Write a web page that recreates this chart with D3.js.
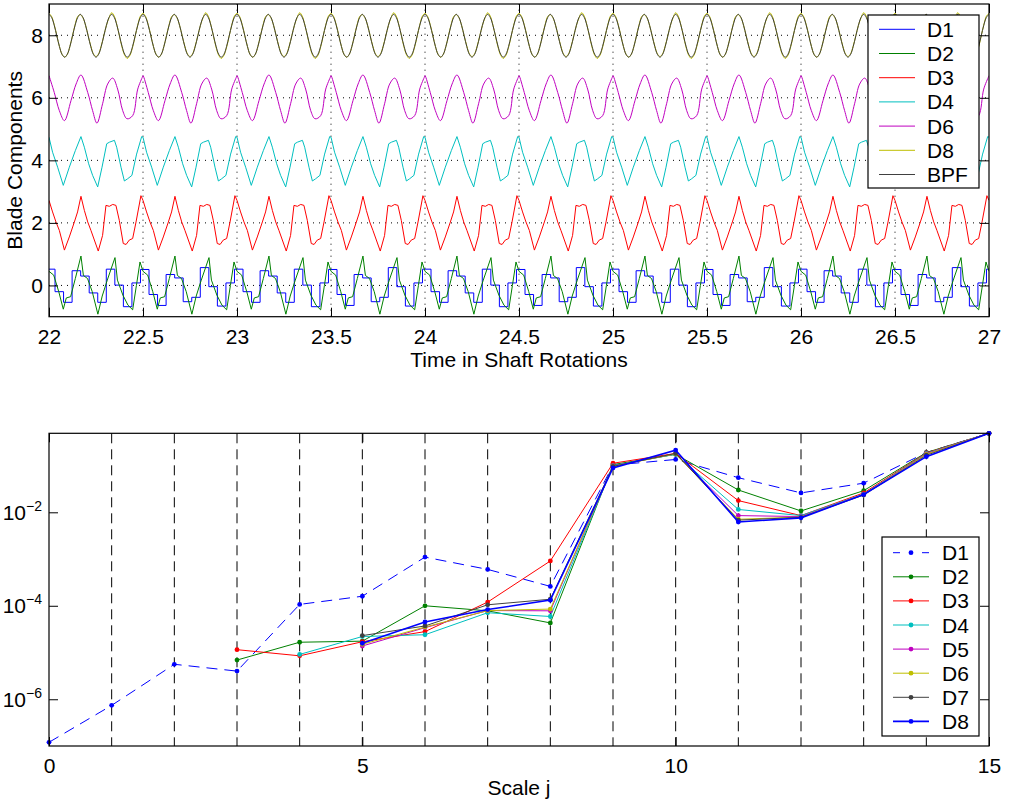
<!DOCTYPE html>
<html>
<head>
<meta charset="utf-8">
<script src="https://cdn.jsdelivr.net/npm/d3@7"></script>
<style>
  body { margin: 0; background: #fff; }
  svg text { font-family: "Liberation Sans", Arial, Helvetica, sans-serif; font-size: 21px; fill: #000; }
</style>
</head>
<body>
<svg id="chart" width="1012" height="805"></svg>
<script>
// ---- top panel: blade components vs time ----
var timeRange = [22, 27];
var timeTicks = [22, 22.5, 23, 23.5, 24, 24.5, 25, 25.5, 26, 26.5, 27];
var compRange = [-1, 9];
var compTicks = [0, 2, 4, 6, 8];

// D1 staircase: one shaft rotation = 22 levels
var d1First = 0.52, d1Start = 22.032, d1Step = 1 / 22;
var d1Levels = [-0.20, -0.54, 0.47, 0.30, -0.24, -0.54, 0.52, 0.01, -0.68, 0.08, 0.51,
                -0.29, -0.64, 0.35, 0.24, -0.52, -0.38, 0.57, -0.04, -0.66, 0.08, 0.52];

// one half rotation, [phase, value]
var d2Shape = [[0.000, 0.45], [0.025, 0.33], [0.052, -0.20], [0.076, -0.76], [0.092, -0.40], [0.115, -0.36],
               [0.140, 0.22], [0.170, 0.94], [0.183, 0.32], [0.205, 0.22], [0.230, -0.20], [0.260, -0.92],
               [0.283, -0.34], [0.310, 0.17], [0.351, 0.89], [0.364, 0.17], [0.393, -0.31], [0.420, -0.63],
               [0.445, -0.78], [0.465, 0.00], [0.484, 0.75]];
var d3Shape = [[0.000, 2.72], [0.019, 2.35], [0.037, 2.03], [0.055, 1.76], [0.082, 1.13], [0.108, 1.55],
               [0.135, 2.03], [0.152, 2.35], [0.170, 2.85], [0.188, 2.40], [0.206, 2.03], [0.223, 1.76],
               [0.262, 1.10], [0.285, 1.60], [0.303, 2.56], [0.321, 2.53], [0.339, 2.59], [0.356, 2.56],
               [0.374, 2.08], [0.395, 1.34], [0.410, 1.31], [0.427, 1.45], [0.445, 1.50], [0.463, 2.03],
               [0.489, 2.87]];
var d4Shape = [[0.000, 4.74], [0.019, 4.26], [0.046, 3.78], [0.076, 3.20], [0.108, 3.78], [0.140, 4.31],
               [0.170, 4.76], [0.188, 4.42], [0.211, 3.89], [0.232, 3.52], [0.259, 3.15], [0.282, 3.78],
               [0.307, 4.53], [0.321, 4.58], [0.348, 4.64], [0.360, 4.42], [0.383, 3.78], [0.401, 3.34],
               [0.418, 3.41], [0.441, 3.52], [0.466, 4.20], [0.493, 4.76]];
var d6Shape = [[0.000, 6.71], [0.028, 6.17], [0.055, 5.59], [0.082, 5.27], [0.117, 5.91], [0.144, 6.44],
               [0.170, 6.73], [0.206, 6.17], [0.232, 5.59], [0.255, 5.19], [0.285, 5.81], [0.312, 6.44],
               [0.339, 6.63], [0.365, 6.28], [0.392, 5.59], [0.415, 5.33], [0.445, 5.43], [0.472, 6.28],
               [0.498, 6.68]];
// D8 over one half rotation (3 blades), 72 samples per rotation
var d8Values = [8.70, 8.60, 8.34, 7.99, 7.64, 7.39, 7.30, 7.39, 7.64, 7.99, 8.34, 8.60,
                8.66, 8.56, 8.32, 7.99, 7.66, 7.41, 7.32, 7.41, 7.66, 7.99, 8.32, 8.56,
                8.72, 8.61, 8.33, 7.97, 7.61, 7.36, 7.26, 7.36, 7.61, 7.97, 8.33, 8.61];
// blade passing frequency, one blade passage
var bpfValues = [8.67, 8.57, 8.32, 7.98, 7.64, 7.39, 7.30, 7.39, 7.64, 7.98, 8.32, 8.57];

// ---- bottom panel: energy per scale ----
var scaleDomain = [0, 15];
var scaleTicks = [0, 5, 10, 15];
var energyDomain = [1e-7, 0.49];
var energyTicks = [-6, -4, -2];
var detailNames = ["D1", "D2", "D3", "D4", "D5", "D6", "D7", "D8"];
var detailStart = [0, 3, 3, 4, 5, 5, 5, 5];
var detailEnergy = [
  [1.2e-7, 7.4e-7, 5.6e-6, 4.0e-6, 1.07e-4, 1.6e-4, 1.1e-3, 6.0e-4, 2.6e-4, 0.102, 0.135, 0.055, 0.026, 0.042, 0.19, 0.49],
  [6.9e-6, 1.66e-5, 1.75e-5, 1.0e-4, 7.8e-5, 4.3e-5, 0.105, 0.174, 0.030, 0.0107, 0.029, 0.19, 0.49],
  [1.15e-5, 8.5e-6, 1.7e-5, 2.8e-5, 1.2e-4, 9.1e-4, 0.112, 0.182, 0.0178, 0.0085, 0.026, 0.186, 0.49],
  [9.1e-6, 2.2e-5, 2.4e-5, 7.1e-5, 5.9e-5, 0.100, 0.174, 0.0115, 0.0085, 0.0245, 0.182, 0.49],
  [1.38e-5, 3.4e-5, 7.9e-5, 7.8e-5, 0.098, 0.178, 0.0085, 0.0081, 0.024, 0.178, 0.49],
  [1.5e-5, 3.5e-5, 7.9e-5, 8.5e-5, 0.096, 0.178, 0.0071, 0.0079, 0.024, 0.174, 0.49],
  [2.3e-5, 3.7e-5, 1.05e-4, 1.38e-4, 0.096, 0.182, 0.0068, 0.0078, 0.0234, 0.166, 0.49],
  [1.58e-5, 4.5e-5, 8.3e-5, 1.32e-4, 0.089, 0.214, 0.0062, 0.0076, 0.024, 0.155, 0.49]
];

var colors = {D1: "#0000ff", D2: "#008000", D3: "#ff0000", D4: "#00bfbf", D5: "#bf00bf",
              D6: "#bf00bf", D8: "#bfbf00", BPF: "#404040"};
var energyColors = ["#0000ff", "#008000", "#ff0000", "#00bfbf", "#bf00bf", "#bfbf00", "#404040", "#0000ff"];

var svg = d3.select("#chart");
var tick = 9;

// ================= top panel =================
var xT = d3.scaleLinear().domain(timeRange).range([49, 989]);
var yT = d3.scaleLinear().domain(compRange).range([316.7, 4]);

var gT = svg.append("g");

// dotted grid
gT.selectAll(".vgrid").data(timeTicks.slice(1, -1)).enter().append("line")
  .attr("x1", d => xT(d)).attr("x2", d => xT(d))
  .attr("y1", yT(compRange[0])).attr("y2", yT(compRange[1]))
  .attr("stroke", "#000").attr("stroke-width", 1).attr("stroke-dasharray", "1,5");
gT.selectAll(".hgrid").data(compTicks).enter().append("line")
  .attr("x1", xT(timeRange[0])).attr("x2", xT(timeRange[1]))
  .attr("y1", d => yT(d)).attr("y2", d => yT(d))
  .attr("stroke", "#000").attr("stroke-width", 1).attr("stroke-dasharray", "1,5");

svg.append("clipPath").attr("id", "clipTop").append("rect")
  .attr("x", xT(timeRange[0])).attr("y", yT(compRange[1]))
  .attr("width", xT(timeRange[1]) - xT(timeRange[0]))
  .attr("height", yT(compRange[0]) - yT(compRange[1]));

function tileShape(shape, period) {
  var pts = [];
  for (var k = 0; timeRange[0] + k * period < timeRange[1] - 1e-9; k++) {
    shape.forEach(function (p) { pts.push({t: timeRange[0] + k * period + p[0], v: p[1]}); });
  }
  pts.push({t: timeRange[1], v: shape[0][1]});
  return pts;
}
function evenShape(values, period) {
  return values.map(function (v, i) { return [i * period / values.length, v]; });
}

var d1Pts = [{t: timeRange[0], v: d1First}];
for (var k = 0; d1Start + k * d1Step < timeRange[1]; k++) {
  d1Pts.push({t: d1Start + k * d1Step, v: d1Levels[k % d1Levels.length]});
}
d1Pts.push({t: timeRange[1], v: d1Pts[d1Pts.length - 1].v});

var topSeries = [
  {name: "D1", pts: d1Pts, curve: d3.curveStepAfter},
  {name: "D2", pts: tileShape(d2Shape, 0.5), curve: d3.curveLinear},
  {name: "D3", pts: tileShape(d3Shape, 0.5), curve: d3.curveLinear},
  {name: "D4", pts: tileShape(d4Shape, 0.5), curve: d3.curveLinear},
  {name: "D6", pts: tileShape(d6Shape, 0.5), curve: d3.curveCatmullRom},
  {name: "D8", pts: tileShape(evenShape(d8Values, 0.5), 0.5), curve: d3.curveCatmullRom},
  {name: "BPF", pts: tileShape(evenShape(bpfValues, 1 / 6), 1 / 6), curve: d3.curveCatmullRom}
];

var gLines = gT.append("g").attr("clip-path", "url(#clipTop)");
topSeries.forEach(function (s) {
  var line = d3.line().x(d => xT(d.t)).y(d => yT(d.v)).curve(s.curve);
  gLines.append("path").datum(s.pts)
    .attr("d", line).attr("fill", "none")
    .attr("stroke", colors[s.name]).attr("stroke-width", 1);
});

// axes with inward ticks on all sides
gT.append("g").attr("transform", "translate(0," + yT(compRange[0]) + ")")
  .call(d3.axisBottom(xT).tickValues(timeTicks).tickSizeInner(-tick).tickSizeOuter(0).tickPadding(12)
    .tickFormat(d3.format("")));
gT.append("g").attr("transform", "translate(0," + yT(compRange[1]) + ")")
  .call(d3.axisTop(xT).tickValues(timeTicks).tickSizeInner(-tick).tickSizeOuter(0).tickFormat(""));
gT.append("g").attr("transform", "translate(" + xT(timeRange[0]) + ",0)")
  .call(d3.axisLeft(yT).tickValues(compTicks).tickSizeInner(-tick).tickSizeOuter(0).tickPadding(6));
gT.append("g").attr("transform", "translate(" + xT(timeRange[1]) + ",0)")
  .call(d3.axisRight(yT).tickValues(compTicks).tickSizeInner(-tick).tickSizeOuter(0).tickFormat(""));
gT.append("rect")
  .attr("x", xT(timeRange[0])).attr("y", yT(compRange[1]))
  .attr("width", xT(timeRange[1]) - xT(timeRange[0]))
  .attr("height", yT(compRange[0]) - yT(compRange[1]))
  .attr("fill", "none").attr("stroke", "#000").attr("stroke-width", 1.2);

gT.append("text").attr("x", (xT(timeRange[0]) + xT(timeRange[1])) / 2).attr("y", 367)
  .attr("text-anchor", "middle").text("Time in Shaft Rotations");
gT.append("text").attr("transform", "translate(22," + (yT(compRange[0]) + yT(compRange[1])) / 2 + ") rotate(-90)")
  .attr("text-anchor", "middle").text("Blade Components");

// legend
var legT = gT.append("g");
legT.append("rect").attr("x", 868).attr("y", 15).attr("width", 111).attr("height", 173)
  .attr("fill", "#fff").attr("stroke", "#000").attr("stroke-width", 1.2);
topSeries.forEach(function (s, i) {
  var y = 29.3 + i * 24.2;
  legT.append("line").attr("x1", 879).attr("x2", 915).attr("y1", y).attr("y2", y)
    .attr("stroke", colors[s.name]).attr("stroke-width", 1);
  legT.append("text").attr("x", 927).attr("y", y).attr("dy", "0.36em").text(s.name);
});

// ================= bottom panel =================
var xB = d3.scaleLinear().domain(scaleDomain).range([49, 989]);
var yB = d3.scaleLog().domain(energyDomain).range([746, 433.3]);
var gB = svg.append("g");

var gridJ = d3.range(scaleDomain[0] + 1, scaleDomain[1]);
gB.selectAll(".jgrid").data(gridJ).enter().append("line")
  .attr("x1", d => xB(d)).attr("x2", d => xB(d))
  .attr("y1", yB(energyDomain[1])).attr("y2", yB(energyDomain[0]))
  .attr("stroke", "#000").attr("stroke-width", 1).attr("stroke-dasharray", "10,6");

var lineB = d3.line().x(d => xB(d.j)).y(d => yB(d.e));
detailNames.forEach(function (name, i) {
  var pts = detailEnergy[i].map(function (e, k) { return {j: detailStart[i] + k, e: e}; });
  var g = gB.append("g");
  g.append("path").datum(pts).attr("d", lineB).attr("fill", "none")
    .attr("stroke", energyColors[i]).attr("stroke-width", i === 7 ? 1.6 : 1)
    .attr("stroke-dasharray", i === 0 ? "11,7" : null);
  g.selectAll("circle").data(pts).enter().append("circle")
    .attr("cx", d => xB(d.j)).attr("cy", d => yB(d.e)).attr("r", 2.4)
    .attr("fill", energyColors[i]);
});

gB.append("g").attr("transform", "translate(0," + yB(energyDomain[0]) + ")")
  .call(d3.axisBottom(xB).tickValues(scaleTicks).tickSizeInner(-tick).tickSizeOuter(0).tickPadding(12));
gB.append("g").attr("transform", "translate(0," + yB(energyDomain[1]) + ")")
  .call(d3.axisTop(xB).tickValues(scaleTicks).tickSizeInner(-tick).tickSizeOuter(0).tickFormat(""));
var yTickVals = energyTicks.map(p => Math.pow(10, p));
gB.append("g").attr("transform", "translate(" + xB(scaleDomain[0]) + ",0)")
  .call(d3.axisLeft(yB).tickValues(yTickVals).tickSizeInner(-tick).tickSizeOuter(0).tickPadding(7).tickFormat(""));
gB.append("g").attr("transform", "translate(" + xB(scaleDomain[1]) + ",0)")
  .call(d3.axisRight(yB).tickValues(yTickVals).tickSizeInner(-tick).tickSizeOuter(0).tickFormat(""));
energyTicks.forEach(function (p) {
  var t = gB.append("text").attr("x", 42).attr("y", yB(Math.pow(10, p)) + 7.7).attr("text-anchor", "end");
  t.append("tspan").text("10");
  t.append("tspan").attr("dy", -9).style("font-size", "14px").text("\u2212" + Math.abs(p));
});
gB.append("rect")
  .attr("x", xB(scaleDomain[0])).attr("y", yB(energyDomain[1]))
  .attr("width", xB(scaleDomain[1]) - xB(scaleDomain[0]))
  .attr("height", yB(energyDomain[0]) - yB(energyDomain[1]))
  .attr("fill", "none").attr("stroke", "#000").attr("stroke-width", 1.2);

gB.append("text").attr("x", (xB(scaleDomain[0]) + xB(scaleDomain[1])) / 2).attr("y", 795)
  .attr("text-anchor", "middle").text("Scale j");

// legend
var legB = gB.append("g");
legB.append("rect").attr("x", 882).attr("y", 537).attr("width", 97).attr("height", 199)
  .attr("fill", "#fff").attr("stroke", "#000").attr("stroke-width", 1.2);
detailNames.forEach(function (name, i) {
  var y = 552.7 + i * 24.1;
  legB.append("line").attr("x1", 893).attr("x2", 929).attr("y1", y).attr("y2", y)
    .attr("stroke", energyColors[i]).attr("stroke-width", i === 7 ? 1.6 : 1)
    .attr("stroke-dasharray", i === 0 ? "7,22" : null);
  legB.append("circle").attr("cx", 911).attr("cy", y).attr("r", 2.4).attr("fill", energyColors[i]);
  legB.append("text").attr("x", 942).attr("y", y).attr("dy", "0.36em").text(name);
});

svg.selectAll(".domain").remove();
svg.selectAll(".tick line").attr("stroke", "#000");
svg.selectAll(".tick text").style("font-size", "21px");
</script>
</body>
</html>
